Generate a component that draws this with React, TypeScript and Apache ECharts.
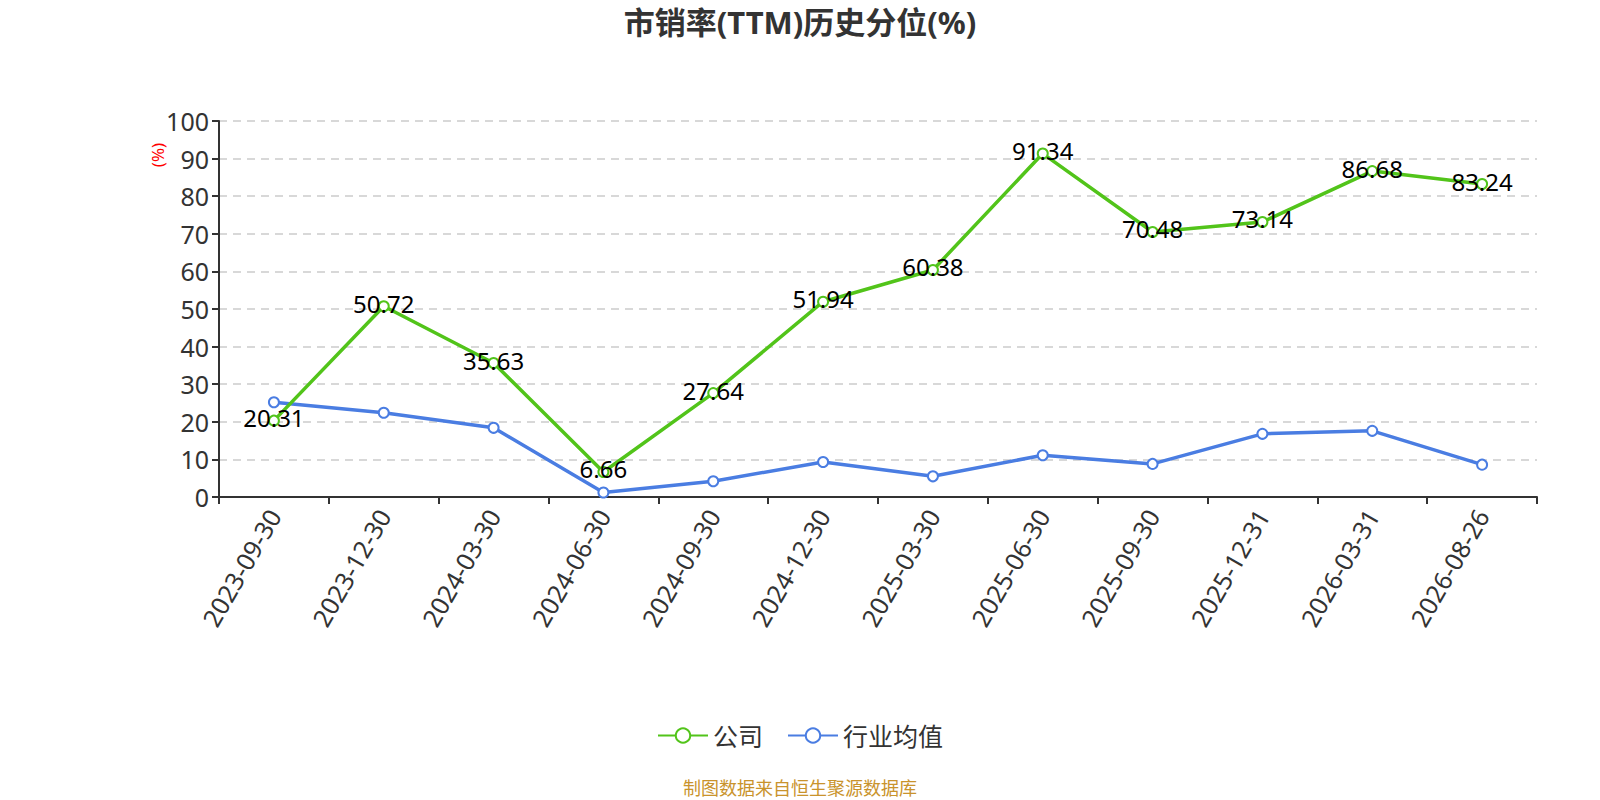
import React, { useEffect, useRef } from "react";
import * as echarts from "echarts";

const categories = [
  "2023-09-30", "2023-12-30", "2024-03-30", "2024-06-30", "2024-09-30", "2024-12-30",
  "2025-03-30", "2025-06-30", "2025-09-30", "2025-12-31", "2026-03-31", "2026-08-26",
];
const companyValues = [20.31, 50.72, 35.63, 6.66, 27.64, 51.94, 60.38, 91.34, 70.48, 73.14, 86.68, 83.24];
const industryValues = [25.2, 22.4, 18.4, 1.2, 4.2, 9.3, 5.5, 11.1, 8.8, 16.8, 17.6, 8.6];
const yTicks = { min: 0, max: 100, interval: 10 };

const FONT = "'Noto Sans', 'Noto Sans CJK SC', sans-serif";

export default function App() {
  const ref = useRef<HTMLDivElement>(null);
  useEffect(() => {
    if (!ref.current) return;
    const chart = echarts.init(ref.current, null, { renderer: "svg" });
    chart.setOption({
      animation: false,
      backgroundColor: "#fff",
      textStyle: { fontFamily: FONT },
      title: {
        text: "市销率(TTM)历史分位(%)",
        left: "center",
        top: 1,
        textStyle: { fontSize: 31, fontWeight: "bold", color: "#333", fontFamily: FONT },
      },
      grid: { left: 219, right: 63, top: 121, bottom: 303, containLabel: false },
      legend: {
        top: 718,
        left: "center",
        itemWidth: 50,
        itemHeight: 18,
        itemGap: 24,
        textStyle: { fontSize: 25, color: "#333", fontFamily: FONT },
        data: ["公司", "行业均值"],
      },
      graphic: [
        {
          type: "text",
          x: 157,
          y: 155,
          rotation: Math.PI / 2,
          style: {
            text: "(%)",
            fill: "#ff0000",
            fontSize: 17,
            fontFamily: FONT,
            align: "center",
            verticalAlign: "middle",
          },
        },
        {
          type: "text",
          x: 800,
          y: 788,
          style: {
            text: "制图数据来自恒生聚源数据库",
            fill: "#c9932c",
            fontSize: 18,
            fontFamily: FONT,
            align: "center",
            verticalAlign: "middle",
          },
        },
      ],
      xAxis: {
        type: "category",
        data: categories,
        boundaryGap: true,
        axisLine: { lineStyle: { color: "#333", width: 2 } },
        axisTick: { show: true, length: 7, lineStyle: { color: "#333", width: 2 } },
        axisLabel: { rotate: 60, fontSize: 25, color: "#333", margin: 14, fontFamily: FONT, interval: 0 },
      },
      yAxis: {
        type: "value",
        min: yTicks.min,
        max: yTicks.max,
        interval: yTicks.interval,
        axisLine: { show: true, lineStyle: { color: "#333", width: 2 } },
        axisTick: { show: true, length: 7, lineStyle: { color: "#333", width: 2 } },
        axisLabel: { fontSize: 25, color: "#333", margin: 10, fontFamily: FONT },
        splitLine: { show: true, lineStyle: { color: "#ccc", type: [8, 6], width: 1.5 } },
      },
      series: [
        {
          name: "公司",
          type: "line",
          data: companyValues,
          symbol: "emptyCircle",
          symbolSize: 10,
          color: "#52c41a",
          lineStyle: { width: 3.5, color: "#52c41a" },
          itemStyle: { color: "#52c41a", borderWidth: 2 },
          label: {
            show: true,
            position: "inside",
            offset: [0, -3],
            fontSize: 24,
            color: "#000",
            fontFamily: FONT,
          },
          z: 3,
        },
        {
          name: "行业均值",
          type: "line",
          data: industryValues,
          symbol: "emptyCircle",
          symbolSize: 10,
          color: "#4a7de2",
          lineStyle: { width: 3.5, color: "#4a7de2" },
          itemStyle: { color: "#4a7de2", borderWidth: 2 },
          z: 2,
        },
      ],
    });
    return () => chart.dispose();
  }, []);
  return (
    <div
      ref={ref}
      style={{ position: "fixed", left: 0, top: 0, width: 1600, height: 800, background: "#fff" }}
    />
  );
}
